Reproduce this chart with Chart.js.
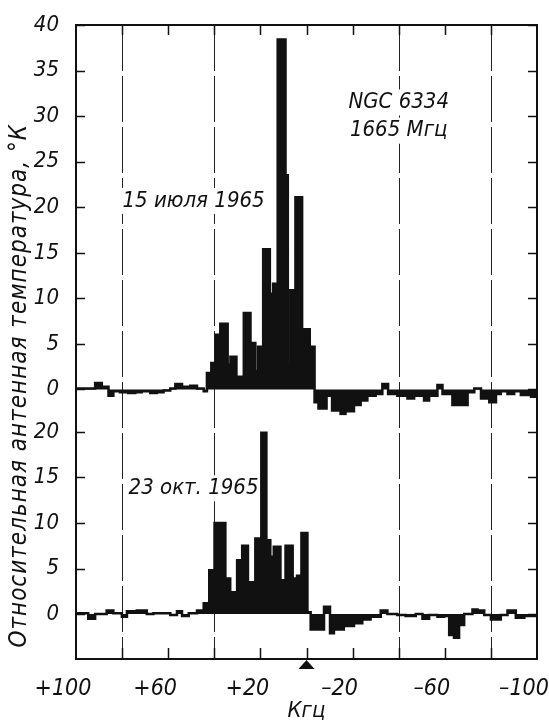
<!DOCTYPE html>
<html>
<head>
<meta charset="utf-8">
<title>NGC 6334 — 1665 Мгц</title>
<script src="https://cdn.jsdelivr.net/npm/chart.js@4.4.1/dist/chart.umd.min.js"></script>
<style>
  html, body { margin: 0; padding: 0; background: #fff; }
  #wrap { width: 549px; height: 724px; }
</style>
</head>
<body>
<div id="wrap"><canvas id="spectrum" width="549" height="724"></canvas></div>
<script>
// Frequency offset, kHz: left edge of every step of the profile (last entry closes it)
const freqJuly = [100, 91.7, 88.8, 85.9, 83.8, 80.9, 77.3, 74.3, 71.5, 67.8, 64.9, 62.0, 59.1, 56.9, 54.0, 50.4, 47.5, 44.6,
  43.2, 41.3, 39.3, 37.4, 34.2, 33.0, 30.4, 27.2, 24.3, 22.2, 21.0, 18.8, 15.9, 14.5, 12.5, 9.1, 8.1, 7.0, 4.8, 1.9, -1.4,
  -3.5, -5.2, -8.7, -11.1, -14.8, -16.9, -20.6, -23.5, -26.4, -30.0, -32.9, -35.4, -39.4, -43.8, -46.7, -51.0, -53.2,
  -56.8, -59.0, -63.3, -69.9, -72.8, -75.7, -79.3, -82.2, -84.3, -87.2, -90.1, -93.0, -97.4, -100];
// Antenna temperature, K (15 July 1965)
const tempJuly = [0.1, 0.7, 0.3, -0.7, -0.2, -0.3, -0.4, -0.3, -0.2, -0.4, -0.3, -0.1, 0.1, 0.6, 0.3, 0.4, 0.1, -0.2,
  1.8, 2.9, 6.0, 7.2, 2.7, 3.6, 1.4, 8.4, 5.1, 2.0, 4.7, 15.4, 10.5, 11.6, 38.4, 23.5, 2.7, 10.9, 21.1, 6.6, 4.7,
  -1.4, -2.1, -0.7, -2.3, -2.7, -2.4, -1.7, -1.2, -0.7, -0.5, 0.6, -0.5, -0.7, -1.0, -0.7, -1.2, -0.7,
  0.5, -0.5, -1.7, -0.3, 0.1, -1.0, -1.4, -0.5, -0.2, -0.5, -0.2, -0.6, -0.8, -0.8];

const freqOct = [100, 94.7, 91.7, 86.7, 83.8, 80.1, 77.9, 73.6, 69.3, 66.4, 59.1, 56.2, 54.0, 51.1, 47.5,
  44.6, 42.2, 39.9, 35.2, 33.1, 30.1, 27.9, 25.4, 22.2, 19.6, 17.4, 15.7, 14.2, 11.3, 9.1, 6.0, 4.1, 2.2,
  -0.4, -1.8, -7.6, -10.2, -11.9, -16.2, -20.6, -24.2, -27.8, -32.2, -35.1, -39.4, -43.0, -47.4, -50.3, -53.2,
  -56.8, -59.7, -61.9, -64.0, -66.2, -68.4, -72.0, -74.2, -77.1, -80.0, -84.3, -87.2, -90.8, -94.5, -100];
// Antenna temperature, K (23 Oct 1965)
const tempOct = [0.1, -0.5, 0, 0.4, 0.1, -0.3, 0.3, 0.4, 0, 0.1, -0.1, 0.3, -0.2, 0.1, 0.4,
  1.2, 4.8, 10.0, 3.9, 2.4, 5.9, 7.5, 3.5, 8.3, 19.9, 8.1, 6.3, 7.4, 3.7, 7.5, 3.9, 4.2, 8.9,
  0.2, -1.7, 0.8, -2.1, -1.7, -1.3, -1.0, -0.6, -0.3, 0.4, 0, -0.1, -0.2, 0, -0.5, -0.1,
  -0.3, -0.2, -2.3, -2.6, -1.2, 0, 0.5, 0.4, -0.1, -0.6, -0.1, 0.4, -0.4, -0.2, -0.2];

const freqLabels = [100, 60, 20, -20, -60, -100];
const gridFreqs = [80, 40, -40, -80];

const yTitle = 'Относительная антенная температура, °К';
const notes = [
  {text: 'NGC 6334', x: -40, y: 31.5, axis: 'yJuly'},
  {text: '1665 Мгц', x: -40, y: 28.4, axis: 'yJuly'},
  {text: '15 июля 1965', x: 49, y: 20.7, axis: 'yJuly'},
  {text: '23 окт. 1965', x: 49, y: 13.8, axis: 'yOct'}
];

const FONT = "'Liberation Sans Narrow', 'DejaVu Sans Condensed', 'DejaVu Sans', sans-serif";
const INK = '#111';

function steps(freqs, temps) {
  return freqs.map((f, i) => ({x: f, y: temps[i]}));
}

function fmtFreq(v) {
  if (v > 0) return '+' + v;
  if (v < 0) return '\u2013' + Math.abs(v);
  return '0';
}

// frame, inner ticks, dashed verticals, notes, marker and the y title
const frameAndNotes = {
  id: 'frameAndNotes',
  beforeDatasetsDraw(chart) {
    const {ctx, chartArea: a, scales} = chart;
    const x = scales.x;
    ctx.save();
    ctx.strokeStyle = '#222';
    ctx.lineWidth = 1;
    ctx.setLineDash([46, 5]);
    gridFreqs.forEach(f => {
      const px = Math.round(x.getPixelForValue(f)) + 0.5;
      ctx.beginPath();
      ctx.moveTo(px, a.top);
      ctx.lineTo(px, a.bottom);
      ctx.stroke();
    });
    ctx.setLineDash([]);

    ctx.font = 'italic 22px ' + FONT;
    ctx.textAlign = 'center';
    ctx.textBaseline = 'middle';
    notes.forEach(n => {
      const px = x.getPixelForValue(n.x);
      const py = scales[n.axis].getPixelForValue(n.y);
      const w = ctx.measureText(n.text).width;
      ctx.fillStyle = '#fff';
      ctx.fillRect(px - w / 2 - 4, py - 13, w + 8, 26);
      ctx.fillStyle = INK;
      ctx.fillText(n.text, px, py);
    });
    ctx.restore();
  },
  afterDatasetsDraw(chart) {
    const {ctx, chartArea: a, scales} = chart;
    const x = scales.x;
    ctx.save();
    ctx.strokeStyle = INK;
    ctx.lineWidth = 2;
    ctx.strokeRect(a.left, a.top, a.width, a.height);

    ctx.lineWidth = 1.5;
    ctx.beginPath();
    ['yJuly', 'yOct'].forEach(id => {
      const s = scales[id];
      s.ticks.forEach(t => {
        if (t.value < 0 || t.value % 5 !== 0) return;
        const py = Math.round(s.getPixelForValue(t.value)) + 0.5;
        ctx.moveTo(a.left, py); ctx.lineTo(a.left + 9, py);
        ctx.moveTo(a.right - 9, py); ctx.lineTo(a.right, py);
      });
    });
    x.ticks.forEach(t => {
      if (Math.abs(t.value) >= 100) return;
      const px = Math.round(x.getPixelForValue(t.value)) + 0.5;
      ctx.moveTo(px, a.top); ctx.lineTo(px, a.top + 10);
      ctx.moveTo(px, a.bottom - 11); ctx.lineTo(px, a.bottom);
    });
    ctx.stroke();

    // reference marker at zero offset
    const p0 = x.getPixelForValue(0);
    ctx.fillStyle = INK;
    ctx.beginPath();
    ctx.moveTo(p0, a.bottom + 1);
    ctx.lineTo(p0 - 8, a.bottom + 10);
    ctx.lineTo(p0 + 8, a.bottom + 10);
    ctx.closePath();
    ctx.fill();

    ctx.translate(20, 124);
    ctx.rotate(-Math.PI / 2);
    ctx.font = 'italic 24px ' + FONT;
    ctx.letterSpacing = '1px';
    ctx.textAlign = 'right';
    ctx.textBaseline = 'middle';
    ctx.fillText(yTitle, 0, 0);
    ctx.restore();
  }
};

const yTicks = {
  includeBounds: false,
  autoSkip: false,
  stepSize: 5,
  padding: 9,
  color: INK,
  font: {family: FONT, size: 22, style: 'italic'},
  callback: v => (v >= 0 && v % 5 === 0) ? String(v) : null
};

new Chart(document.getElementById('spectrum'), {
  type: 'line',
  data: {
    datasets: [
      {
        label: '15 июля 1965',
        data: steps(freqJuly, tempJuly),
        xAxisID: 'x',
        yAxisID: 'yJuly',
        stepped: 'before',
        fill: 'origin',
        borderColor: INK,
        backgroundColor: INK,
        borderWidth: 2.5,
        pointRadius: 0
      },
      {
        label: '23 окт. 1965',
        data: steps(freqOct, tempOct),
        xAxisID: 'x',
        yAxisID: 'yOct',
        stepped: 'before',
        fill: 'origin',
        borderColor: INK,
        backgroundColor: INK,
        borderWidth: 2.5,
        pointRadius: 0
      }
    ]
  },
  options: {
    responsive: false,
    animation: false,
    events: [],
    layout: {padding: {top: 25, right: 12, bottom: 0, left: 0}},
    plugins: {legend: {display: false}, tooltip: {enabled: false}},
    scales: {
      x: {
        type: 'linear',
        min: -100,
        max: 100,
        reverse: true,
        grid: {display: false},
        border: {display: false},
        ticks: {
          stepSize: 20,
          autoSkip: false,
          maxRotation: 0,
          padding: 8,
          labelOffset: -13,
          color: INK,
          font: {family: FONT, size: 23, style: 'italic'},
          callback: v => freqLabels.includes(v) ? fmtFreq(v) : ''
        },
        title: {
          display: true,
          text: 'Кгц',
          color: INK,
          font: {family: FONT, size: 22, style: 'italic'},
          padding: {top: 0, bottom: 0}
        },
        afterFit: s => { s.height = 65; s.paddingLeft = 0; s.paddingRight = 0; }
      },
      yJuly: {
        type: 'linear',
        position: 'left',
        stack: 'panels',
        stackWeight: 42.85,
        weight: 2,
        min: -2.85,
        max: 40,
        grid: {display: false},
        border: {display: false},
        ticks: yTicks,
        afterFit: s => { s.width = 76; s.paddingTop = 0; s.paddingBottom = 0; }
      },
      yOct: {
        type: 'linear',
        position: 'left',
        stack: 'panels',
        stackWeight: 26.73,
        weight: 1,
        min: -4.93,
        max: 21.8,
        grid: {display: false},
        border: {display: false},
        ticks: yTicks,
        afterFit: s => { s.width = 76; s.paddingTop = 0; s.paddingBottom = 0; }
      }
    }
  },
  plugins: [frameAndNotes]
});
</script>
</body>
</html>
